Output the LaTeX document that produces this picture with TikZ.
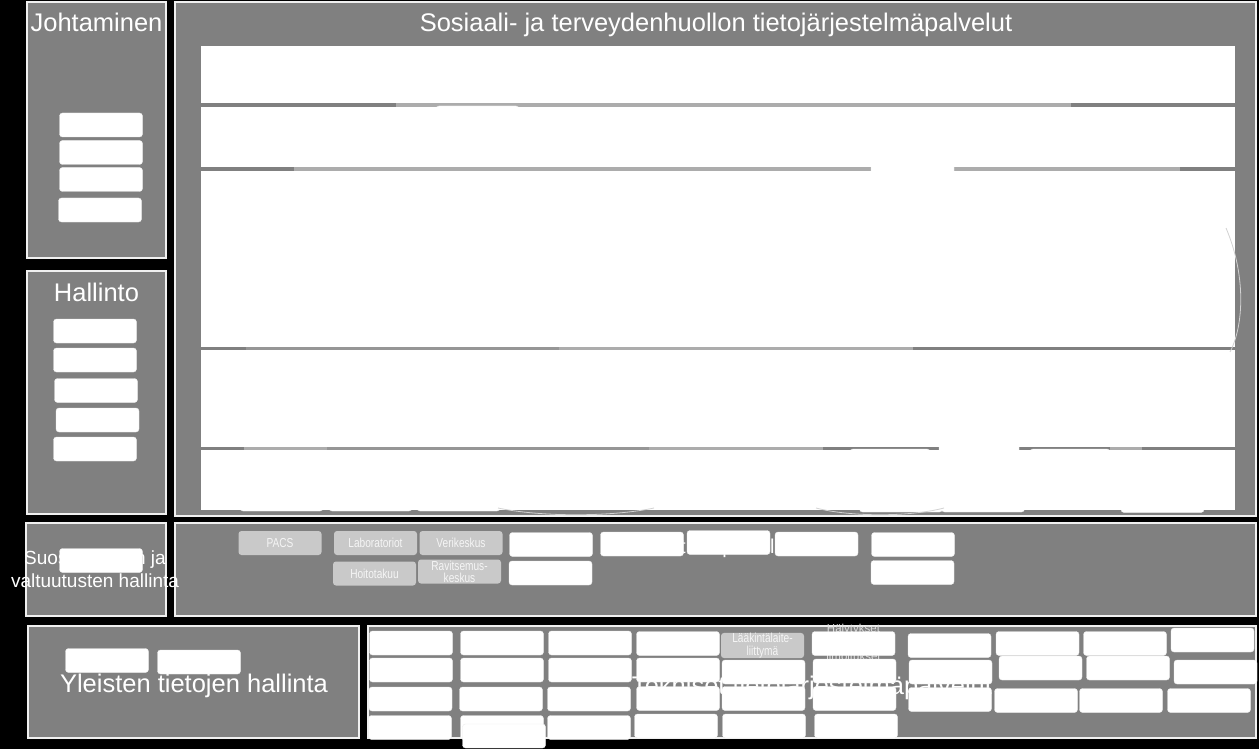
\documentclass[tikz,border=0pt]{standalone}
\usepackage{fontspec}
\setmainfont{Liberation Sans}
\newfontfamily\narrowsans[FakeStretch=0.78]{Liberation Sans}

\begin{document}
\begin{tikzpicture}[x=1pt,y=-1pt,
  panel/.style={draw=gray!12,line width=1.2pt,fill=gray,inner sep=0pt},
  wbox/.style={draw=gray!15,fill=white,rounded corners=3pt,inner sep=0pt,minimum width=83pt,minimum height=24pt},
  gbox/.style={fill=gray!42,rounded corners=3pt,inner sep=0pt,minimum width=83pt,minimum height=24pt,text=gray!8,align=center,font=\narrowsans\fontsize{13}{12}\selectfont},
  bigtitle/.style={text=white,inner sep=0pt,anchor=base,font=\fontsize{25.5}{30}\selectfont},
  lightseg/.style={fill=gray!65},
  midseg/.style={fill=gray!82},
  arcline/.style={draw=gray!35,line width=0.8pt}]
\useasboundingbox (0,0) rectangle (1259,749);
\fill[black] (0,0) rectangle (1259,749);

\node[panel,minimum width=139pt,minimum height=256pt] (johto) at (96.5,130) {};
\node[panel,minimum width=1081pt,minimum height=514pt] (sote) at (715.5,259) {};
\node[panel,minimum width=139pt,minimum height=243pt] (hallinto) at (96.5,392.5) {};
\node[panel,minimum width=140pt,minimum height=93pt] (suos) at (96,569.5) {};
\node[panel,minimum width=1081pt,minimum height=93pt] (tuki) at (715.5,569.5) {};
\node[panel,minimum width=331pt,minimum height=112pt] (yleiset) at (193.5,682) {};
\node[panel,minimum width=888pt,minimum height=112pt] (tekniset) at (812,682) {};

\node[bigtitle] (johtotitle) at (96.5,32) {Johtaminen};
\node[bigtitle] (sotetitle) at (716,32) {Sosiaali- ja terveydenhuollon tietojärjestelmäpalvelut};
\node[bigtitle] (hallintotitle) at (96.5,301.5) {Hallinto};
\node[text=white,align=center,inner sep=0pt,font=\fontsize{19}{23}\selectfont] (suostitle) at (95,569.5) {Suostumusten ja\\valtuutusten hallinta};
\node[text=white,inner sep=0pt,anchor=base,font=\fontsize{20}{24}\selectfont] (tukititle) at (704,553) {Kliiniset tukipalvelut};
\node[bigtitle] (yleisettitle) at (194,692) {Yleisten tietojen hallinta};
\node[bigtitle] (teknisettitle) at (812,694) {Tekniset tietojärjestelmäpalvelut};
\node[text=gray!25,align=center,inner sep=0pt,font=\fontsize{11.5}{14}\selectfont] (halytys) at (853.5,642) {Hälytykset\\ja\\ilmoitukset};

\fill[lightseg] (396,103) rectangle (1071,107);
\fill[lightseg] (294,167) rectangle (871,171);
\fill[lightseg] (954,167) rectangle (1180,171);
\fill[midseg] (246,347) rectangle (559,350);
\fill[lightseg] (559,347) rectangle (913,350);
\fill[lightseg] (244,447) rectangle (327,450);
\fill[midseg] (327,447) rectangle (649,450);
\fill[lightseg] (649,447) rectangle (823,450);
\fill[lightseg] (1110,447) rectangle (1142,450);

\node[wbox] (s1) at (477.5,118) {};
\node[wbox] (s2) at (912.5,169) {};
\node[wbox,minimum width=80pt] (s3) at (890,461) {};
\node[wbox,minimum width=80pt] (s4) at (979,450) {};
\node[wbox,minimum width=80pt] (s5) at (1070,461) {};
\node[wbox] (s6) at (281.5,499) {};
\node[wbox] (s7) at (370.5,499) {};
\node[wbox] (s8) at (458.5,499) {};
\node[wbox] (s9) at (901,500) {};
\node[wbox] (s10) at (983,500) {};
\node[wbox] (s11) at (1162.5,500.5) {};

\fill[white] (201,46) rectangle (1235,103);
\fill[white] (201,107) rectangle (1235,167);
\fill[white] (201,171) rectangle (1235,347);
\fill[white] (201,350) rectangle (1235,447);
\fill[white] (201,450) rectangle (1235,510);

\draw[arcline] (1226,228) .. controls (1246,275) and (1244,325) .. (1230,352);
\draw[arcline] (498,508) .. controls (540,517) and (612,517) .. (654,508);
\draw[arcline] (816,508) .. controls (850,517) and (910,517) .. (944,508);

\node[wbox] (j1) at (101,125) {};
\node[wbox] (j2) at (101,152.5) {};
\node[wbox] (j3) at (101,179.5) {};
\node[wbox] (j4) at (100,210) {};

\node[wbox] (h1) at (95,331) {};
\node[wbox] (h2) at (95,360) {};
\node[wbox] (h3) at (96,390.5) {};
\node[wbox] (h4) at (97.5,420) {};
\node[wbox] (h5) at (95,449) {};

\node[wbox] (su1) at (101,560.5) {};

\node[gbox] (pacs) at (280,543) {PACS};
\node[gbox] (lab) at (375.5,543) {Laboratoriot};
\node[gbox] (veri) at (461,543) {Verikeskus};
\node[gbox] (hoito) at (374.5,573.5) {Hoitotakuu};
\node[gbox] (ravi) at (459.5,571.5) {Ravitsemus-\\keskus};
\node[wbox] (t1) at (551,544.5) {};
\node[wbox] (t2) at (642,544) {};
\node[wbox] (t3) at (728.5,542.5) {};
\node[wbox] (t4) at (816.5,544) {};
\node[wbox] (t5) at (913,544.5) {};
\node[wbox] (t6) at (550.5,573) {};
\node[wbox] (t7) at (912.5,572.5) {};

\node[wbox] (y1) at (107,660.5) {};
\node[wbox] (y2) at (199,662) {};

\node[wbox] (k11) at (411,643) {};
\node[wbox] (k12) at (502,643) {};
\node[wbox] (k13) at (590,643) {};
\node[wbox] (k14) at (678,643.5) {};
\node[gbox,font=\narrowsans\fontsize{13}{13}\selectfont] (laite) at (762.5,645.5) {Lääkintälaite-\\liittymä};
\node[wbox] (k16) at (853.5,643.5) {};
\node[wbox] (k17) at (949.5,645.5) {};
\node[wbox] (k18) at (1037.5,643.5) {};
\node[wbox] (k19) at (1125,643.5) {};
\node[wbox] (k1a) at (1212.5,640) {};

\node[wbox] (k21) at (411,670) {};
\node[wbox] (k22) at (502,670) {};
\node[wbox] (k23) at (590,670) {};
\node[wbox] (k24) at (678,670) {};
\node[wbox] (k25) at (763.5,672) {};
\node[wbox] (k26) at (854.5,671) {};
\node[wbox] (k27) at (950.5,672) {};
\node[wbox] (k28) at (1040.5,668) {};
\node[wbox] (k29) at (1128,668) {};
\node[wbox] (k2a) at (1215.5,672) {};

\node[wbox] (k31) at (410.5,699) {};
\node[wbox] (k32) at (501,699) {};
\node[wbox] (k33) at (589,699) {};
\node[wbox] (k34) at (678,698.5) {};
\node[wbox] (k35) at (763.5,698.5) {};
\node[wbox] (k36) at (854.5,698.5) {};
\node[wbox] (k37) at (950,699.5) {};
\node[wbox] (k38) at (1036,700.5) {};
\node[wbox] (k39) at (1121,700.5) {};
\node[wbox] (k3a) at (1209,700.5) {};

\node[wbox] (k41) at (410,727.5) {};
\node[wbox] (k42) at (502,727.5) {};
\node[wbox] (k4x) at (504,736) {};
\node[wbox] (k43) at (589,727.5) {};
\node[wbox] (k44) at (676,726) {};
\node[wbox] (k45) at (764,726) {};
\node[wbox] (k46) at (856,726) {};
\end{tikzpicture}
\end{document}
